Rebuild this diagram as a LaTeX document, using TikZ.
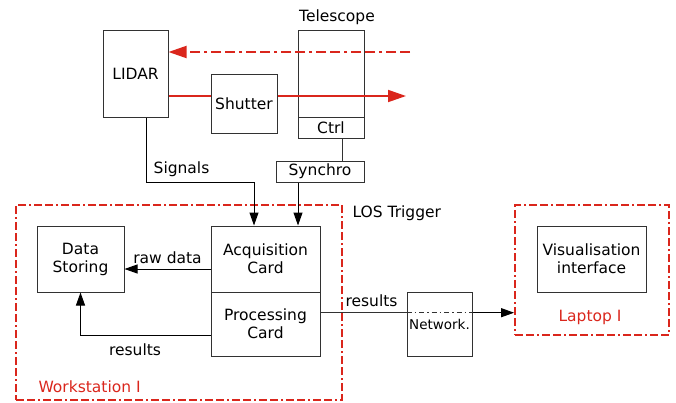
\documentclass[tikz,border=0pt]{standalone}
\usepackage{fontspec}
\setmainfont{DejaVu Sans}
\usetikzlibrary{arrows.meta}
\definecolor{beamred}{RGB}{218,38,28}
\definecolor{linegray}{RGB}{50,50,50}

\begin{document}
\begin{tikzpicture}[
    x=1pt,y=-1pt,
    every node/.style={font=\fontsize{15.5}{18}\selectfont},
    unit/.style={draw=linegray,line width=1pt,inner sep=0pt,align=center},
    frame/.style={draw=beamred,line width=1.8pt,dash pattern=on 8pt off 3pt on 8pt off 3pt on 2pt off 3pt,inner sep=0pt},
    link/.style={draw=linegray,line width=1pt},
    arr/.style={link,-{Triangle[length=13pt,width=9pt]},color=black},
    beam/.style={draw=beamred,line width=1.8pt},
    beamarr/.style={beam,-{Triangle[length=18pt,width=12pt]},color=beamred}]
\useasboundingbox (0,0) rectangle (676,402);
% frames
\node[frame,minimum width=326pt,minimum height=195pt] (ws) at (179,302.5) {};
\node[frame,minimum width=154pt,minimum height=130pt] (laptop) at (592,270) {};
% optics
\node[unit,minimum width=65pt,minimum height=87pt] (lidar) at (135.5,73.5) {LIDAR};
\node[unit,minimum width=66pt,minimum height=87pt] (tel) at (331,73.5) {};
\node[unit,minimum width=66pt,minimum height=21pt] (ctrl) at (331,127.5) {Ctrl};
\node[unit,minimum width=66pt,minimum height=59pt] (shutter) at (244,103.5) {Shutter};
\node[unit,minimum width=88pt,minimum height=21pt] (synchro) at (320,171.5) {Synchro};
% workstation
\node[unit,minimum width=109pt,minimum height=66pt] (acq) at (265.5,259) {Acquisition\\Card};
\node[unit,minimum width=109pt,minimum height=64pt] (proc) at (265.5,324) {Processing\\Card};
\node[unit,minimum width=87pt,minimum height=66pt] (store) at (80.5,259) {Data\\Storing};
\node[unit,minimum width=65pt,minimum height=64pt,font=\fontsize{13.5}{16}\selectfont] (net) at (439.5,324) {Network.};
\node[unit,minimum width=109pt,minimum height=66pt] (vis) at (591.5,259) {Visualisation\\interface};
% labels
\node (tellabel) at (337,17) {Telescope};
\node[anchor=west] (loslabel) at (349,213) {LOS Trigger};
\node[anchor=west,text=beamred] (wslabel) at (35,387) {Workstation I};
\node[text=beamred] (laplabel) at (590,317) {Laptop I};
% beams
\coordinate (beamin) at (410,52);
\coordinate (beamout) at (406,96);
\draw[beamarr,dash pattern=on 10pt off 4pt on 10pt off 4pt on 3pt off 4pt] (beamin) -- (beamin -| lidar.east);
\draw[beam] (lidar.east |- beamout) -- (shutter.west |- beamout);
\draw[beamarr] (shutter.east |- beamout) -- (beamout);
% signals
\draw[link] ([xshift=22pt]synchro.north) -- ([xshift=22pt]synchro.north |- ctrl.south);
\draw[arr] ([xshift=-22pt]synchro.south) -- ([xshift=-22pt]synchro.south |- acq.north);
\draw[arr] ([xshift=10.5pt]lidar.south) -- ++(0,65) -| ([xshift=-11.5pt]acq.north);
\node (siglabel) at (181.5,169) {Signals};
\draw[arr] ([yshift=-10pt]acq.west) -- ([yshift=-10pt]acq.west -| store.east)
    node[midway,above=1pt] {raw data};
\draw[arr] ([yshift=-11pt]proc.west) -| (store.south);
\node (reslabel) at (135,350) {results};
\draw[link] ([yshift=11.3pt]proc.east) -- ([yshift=11.3pt]proc.east -| net.west)
    node[midway,above=2pt,xshift=8pt] {results};
\draw[link,dash pattern=on 5pt off 3pt on 1.5pt off 3pt] ([yshift=11.3pt]proc.east -| net.west) -- ([yshift=11.3pt]proc.east -| net.east);
\draw[arr] ([yshift=11.3pt]proc.east -| net.east) -- ([yshift=11.3pt]proc.east -| laptop.west);
\end{tikzpicture}
\end{document}
